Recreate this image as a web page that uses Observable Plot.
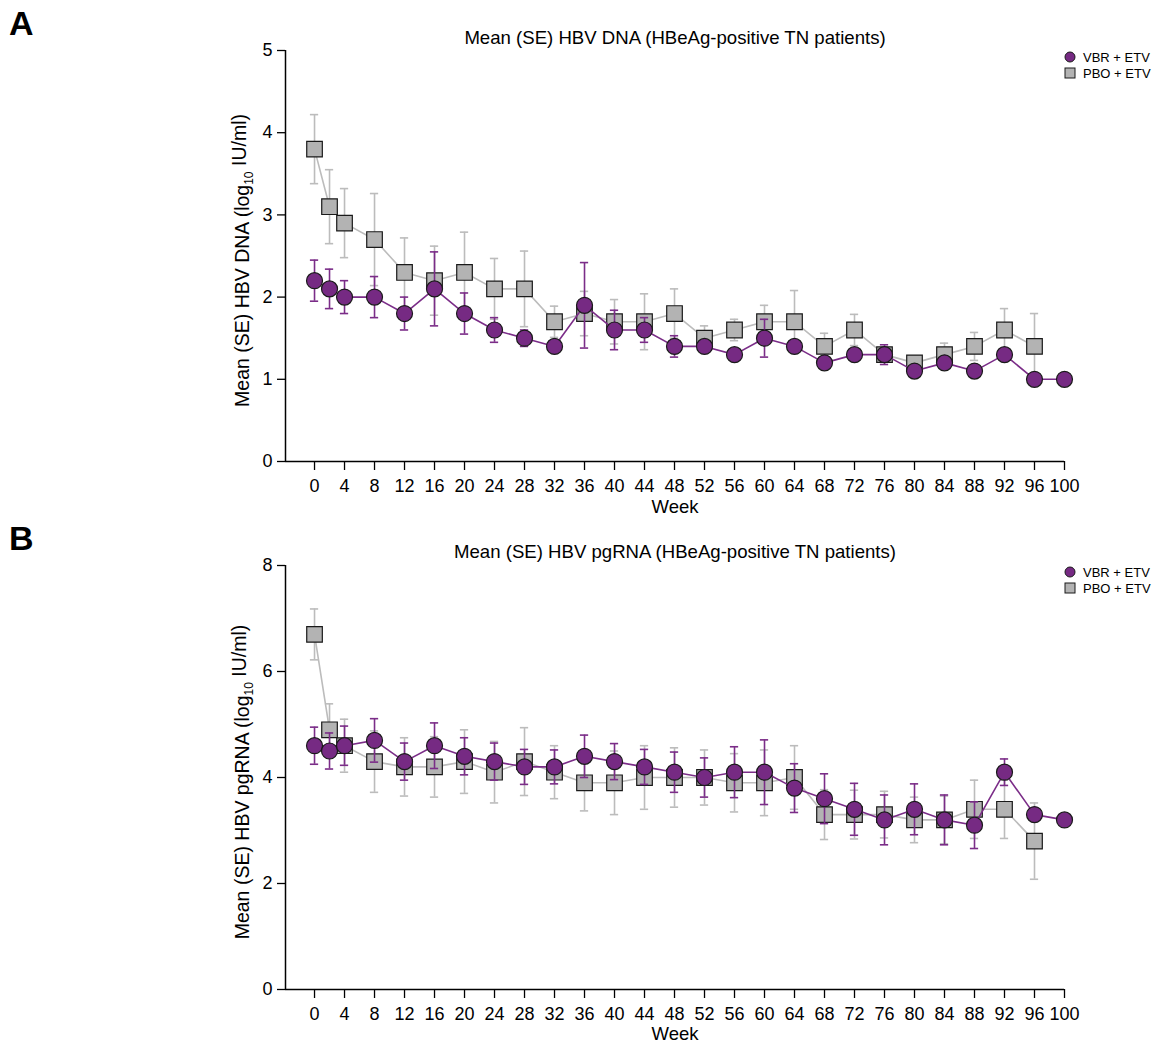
<!DOCTYPE html>
<html>
<head>
<meta charset="utf-8">
<script src="https://cdn.jsdelivr.net/npm/d3@7"></script>
<script src="https://cdn.jsdelivr.net/npm/@observablehq/plot@0.6"></script>
<style>
  body { margin: 0; background: #fff; font-family: "Liberation Sans", Arial, sans-serif; }
  #fig { position: relative; width: 1155px; height: 1044px; overflow: hidden; }
  .panel { position: absolute; left: 0; }
  .tag { position: absolute; left: 9px; font-weight: bold; font-size: 34px; line-height: 1; }
</style>
</head>
<body>
<div id="fig">
  <div class="tag" style="top:6px">A</div>
  <div class="tag" style="top:521px">B</div>
  <div class="panel" id="pA" style="top:0px"></div>
  <div class="panel" id="pB" style="top:515px"></div>
</div>
<script>
// ---- data ----
const weeksVBR = [0, 2, 4, 8, 12, 16, 20, 24, 28, 32, 36, 40, 44, 48, 52, 56, 60, 64, 68, 72, 76, 80, 84, 88, 92, 96, 100];
const weeksPBO = [0, 2, 4, 8, 12, 16, 20, 24, 28, 32, 36, 40, 44, 48, 52, 56, 60, 64, 68, 72, 76, 80, 84, 88, 92, 96];
const xTicks = [0, 4, 8, 12, 16, 20, 24, 28, 32, 36, 40, 44, 48, 52, 56, 60, 64, 68, 72, 76, 80, 84, 88, 92, 96, 100];
const seriesNames = ["VBR + ETV", "PBO + ETV"];

// Panel A: HBV DNA
const dnaVbrMean = [2.2, 2.1, 2.0, 2.0, 1.8, 2.1, 1.8, 1.6, 1.5, 1.4, 1.9, 1.6, 1.6, 1.4, 1.4, 1.3, 1.5, 1.4, 1.2, 1.3, 1.3, 1.1, 1.2, 1.1, 1.3, 1.0, 1.0];
const dnaVbrSE   = [0.25, 0.24, 0.2, 0.25, 0.2, 0.45, 0.25, 0.15, 0.1, 0, 0.52, 0.24, 0.15, 0.13, 0, 0, 0.23, 0, 0, 0, 0.12, 0, 0, 0, 0, 0, 0];
const dnaPboMean = [3.8, 3.1, 2.9, 2.7, 2.3, 2.2, 2.3, 2.1, 2.1, 1.7, 1.8, 1.7, 1.7, 1.8, 1.5, 1.6, 1.7, 1.7, 1.4, 1.6, 1.3, 1.2, 1.3, 1.4, 1.6, 1.4];
const dnaPboSE   = [0.42, 0.45, 0.42, 0.56, 0.42, 0.42, 0.49, 0.37, 0.46, 0.19, 0.27, 0.27, 0.34, 0.3, 0.15, 0.13, 0.2, 0.38, 0.16, 0.19, 0.05, 0.05, 0.14, 0.17, 0.26, 0.4];

// Panel B: HBV pgRNA
const rnaVbrMean = [4.6, 4.5, 4.6, 4.7, 4.3, 4.6, 4.4, 4.3, 4.2, 4.2, 4.4, 4.3, 4.2, 4.1, 4.0, 4.1, 4.1, 3.8, 3.6, 3.4, 3.2, 3.4, 3.2, 3.1, 4.1, 3.3, 3.2];
const rnaVbrSE   = [0.35, 0.34, 0.37, 0.41, 0.35, 0.43, 0.35, 0.35, 0.33, 0.32, 0.4, 0.34, 0.33, 0.38, 0.37, 0.48, 0.61, 0.46, 0.47, 0.49, 0.47, 0.48, 0.47, 0.44, 0.25, 0, 0];
const rnaPboMean = [6.7, 4.9, 4.6, 4.3, 4.2, 4.2, 4.3, 4.1, 4.3, 4.1, 3.9, 3.9, 4.0, 4.0, 4.0, 3.9, 3.9, 4.0, 3.3, 3.3, 3.3, 3.2, 3.2, 3.4, 3.4, 2.8];
const rnaPboSE   = [0.48, 0.49, 0.5, 0.58, 0.55, 0.57, 0.6, 0.58, 0.64, 0.5, 0.53, 0.6, 0.6, 0.56, 0.52, 0.55, 0.62, 0.6, 0.47, 0.46, 0.44, 0.43, 0.45, 0.55, 0.55, 0.72];

// ---- styles ----
const PURPLE = "#762a83";
const PURPLE_LINE = "#7b2d88";
const GRAY_FILL = "#b3b3b3";
const GRAY_LINE = "#bcbcbc";
const EDGE = "#1a1a1a";
const FONT = "'Liberation Sans', Arial, sans-serif";
const X_MIN = -3.87;

function rows(weeks, mean, se) {
  return weeks.map((w, i) => ({week: w, mean: mean[i], se: se[i]}));
}

function errorMarks(data, color) {
  const bars = data.filter(d => d.se > 0);
  const cap = 0.55;
  return [
    Plot.ruleX(bars, {x: "week", y1: d => d.mean - d.se, y2: d => d.mean + d.se, stroke: color, strokeWidth: 1.6}),
    Plot.ruleY(bars, {y: d => d.mean + d.se, x1: d => d.week - cap, x2: d => d.week + cap, stroke: color, strokeWidth: 1.6}),
    Plot.ruleY(bars, {y: d => d.mean - d.se, x1: d => d.week - cap, x2: d => d.week + cap, stroke: color, strokeWidth: 1.6})
  ];
}

function panel(opts) {
  const {vbr, pbo, yMax, yTicks, title, height, marginBottom, labelMain, titleDy, weekDy} = opts;
  const svg = Plot.plot({
    width: 1155,
    height,
    marginLeft: 285,
    marginRight: 91,
    marginTop: 50,
    marginBottom,
    style: {fontFamily: FONT, fontSize: "18px", color: "#000", background: "transparent", overflow: "visible"},
    x: {domain: [X_MIN, 100]},
    y: {domain: [0, yMax]},
    marks: [
      Plot.axisY({ticks: yTicks, tickFormat: d => String(d), tickSize: 8, tickPadding: 5, label: null, fontSize: 18, strokeWidth: 1.3}),
      Plot.axisX({ticks: xTicks, tickFormat: d => String(d), tickSize: 9, tickPadding: 9, label: null, fontSize: 18, strokeWidth: 1.3}),
      Plot.ruleY([0], {x1: X_MIN, x2: 100, stroke: "#000", strokeWidth: 1.5}),
      Plot.ruleX([X_MIN], {y1: 0, y2: yMax, stroke: "#000", strokeWidth: 1.5}),
      Plot.text([title], {frameAnchor: "top", lineAnchor: "middle", dy: titleDy, fontSize: 18.6, fill: "#000"}),
      Plot.text(["Week"], {frameAnchor: "bottom", lineAnchor: "middle", dy: weekDy, fontSize: 18.5, fill: "#000"}),
      // PBO + ETV
      Plot.line(pbo, {x: "week", y: "mean", stroke: GRAY_LINE, strokeWidth: 1.6}),
      ...errorMarks(pbo, GRAY_LINE),
      Plot.dot(pbo, {x: "week", y: "mean", symbol: "square", r: 8.8, fill: GRAY_FILL, stroke: EDGE, strokeWidth: 1.2}),
      // VBR + ETV
      Plot.line(vbr, {x: "week", y: "mean", stroke: PURPLE_LINE, strokeWidth: 1.6}),
      ...errorMarks(vbr, PURPLE_LINE),
      Plot.dot(vbr, {x: "week", y: "mean", symbol: "circle", r: 8, fill: PURPLE, stroke: EDGE, strokeWidth: 1.2})
    ]
  });

  const s = d3.select(svg);
  const cy = (50 + (height - marginBottom)) / 2;
  // y-axis label with subscript
  const t = s.append("text")
    .attr("transform", `translate(242,${cy + 5}) rotate(-90)`)
    .attr("text-anchor", "middle")
    .attr("dy", "0.35em")
    .attr("font-family", FONT)
    .attr("font-size", 19.5)
    .attr("fill", "#000");
  t.append("tspan").text(labelMain + " (log");
  t.append("tspan").attr("font-size", 12).attr("dy", "0.35em").text("10");
  t.append("tspan").attr("dy", "-0.35em").text(" IU/ml)");

  // legend
  const lg = s.append("g").attr("font-family", FONT).attr("font-size", 13).attr("fill", "#000").attr("text-anchor", "start");
  const l1 = lg.append("g").attr("transform", "translate(1070,57)");
  l1.append("circle").attr("r", 5).attr("fill", PURPLE).attr("stroke", EDGE).attr("stroke-width", 1);
  l1.append("text").attr("x", 13).attr("dy", "0.35em").attr("text-anchor", "start").text(seriesNames[0]);
  const l2 = lg.append("g").attr("transform", "translate(1070,73)");
  l2.append("rect").attr("x", -5).attr("y", -5).attr("width", 10).attr("height", 10).attr("fill", GRAY_FILL).attr("stroke", EDGE).attr("stroke-width", 1);
  l2.append("text").attr("x", 13).attr("dy", "0.35em").attr("text-anchor", "start").text(seriesNames[1]);
  return svg;
}

document.getElementById("pA").append(panel({
  vbr: rows(weeksVBR, dnaVbrMean, dnaVbrSE),
  pbo: rows(weeksPBO, dnaPboMean, dnaPboSE),
  yMax: 5, yTicks: [0, 1, 2, 3, 4, 5],
  title: "Mean (SE) HBV DNA (HBeAg-positive TN patients)",
  height: 515, marginBottom: 54,
  labelMain: "Mean (SE) HBV DNA",
  titleDy: -12, weekDy: 46
}));

document.getElementById("pB").append(panel({
  vbr: rows(weeksVBR, rnaVbrMean, rnaVbrSE),
  pbo: rows(weeksPBO, rnaPboMean, rnaPboSE),
  yMax: 8, yTicks: [0, 2, 4, 6, 8],
  title: "Mean (SE) HBV pgRNA (HBeAg-positive TN patients)",
  height: 529, marginBottom: 55,
  labelMain: "Mean (SE) HBV pgRNA",
  titleDy: -13, weekDy: 45
}));
</script>
</body>
</html>
